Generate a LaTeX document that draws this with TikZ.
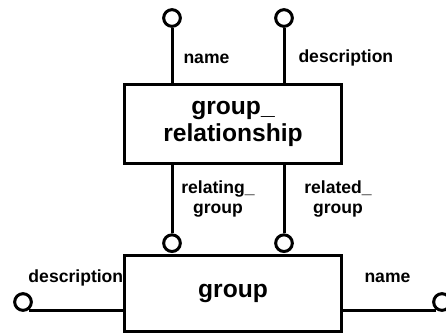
\documentclass[tikz,border=0pt]{standalone}
\usepackage{fontspec}
\setmainfont{Liberation Sans}
\usetikzlibrary{positioning, calc}

\begin{document}
\begin{tikzpicture}[x=0.03cm, y=-0.03cm, line width=0.09cm,
    entity/.style={draw, rectangle, inner sep=0pt, minimum width=6.48cm,
        align=center, font=\fontsize{21}{23}\selectfont\bfseries},
    attr/.style={draw, circle, inner sep=0pt, minimum size=0.5cm},
    lbl/.style={inner sep=0pt, align=center, font=\fontsize{15}{17}\selectfont\bfseries}]
\useasboundingbox (0,0) rectangle (446,333);
% entities
\node[entity, minimum height=2.37cm] (grprel) at (233,123.5) {group\_\\relationship};
\node[entity, minimum height=2.28cm] (grp) at (233,293) {group};
% attributes of group_relationship
\node[attr] (relname) at (172,18) {};
\node[attr] (reldesc) at (284,18) {};
\draw (relname) -- (relname |- grprel.north);
\draw (reldesc) -- (reldesc |- grprel.north);
\node[lbl, anchor=base west] (relnamelbl) at (182,63) {name};
\node[lbl, anchor=base west] (reldesclbl) at (297,62) {description};
% links to group
\node[attr, anchor=south] (relating) at (172,253) {};
\node[attr, anchor=south] (related) at (284,253) {};
\draw (relating) -- (relating |- grprel.south);
\draw (related) -- (related |- grprel.south);
\node[lbl] (relatinglbl) at (218,199) {relating\_\\group};
\node[lbl] (relatedlbl) at (338,199) {related\_\\group};
% attributes of group
\node[attr] (grpdesc) at (23,302) {};
\node[attr] (grpname) at (442,302) {};
\draw (grpdesc.-55) -- (grpdesc.-55 -| grp.west);
\draw (grpname.-125) -- (grpname.-125 -| grp.east);
\node[lbl, anchor=base west] (grpdesclbl) at (27,282) {description};
\node[lbl, anchor=base west] (grpnamelbl) at (363,282) {name};
\end{tikzpicture}
\end{document}
